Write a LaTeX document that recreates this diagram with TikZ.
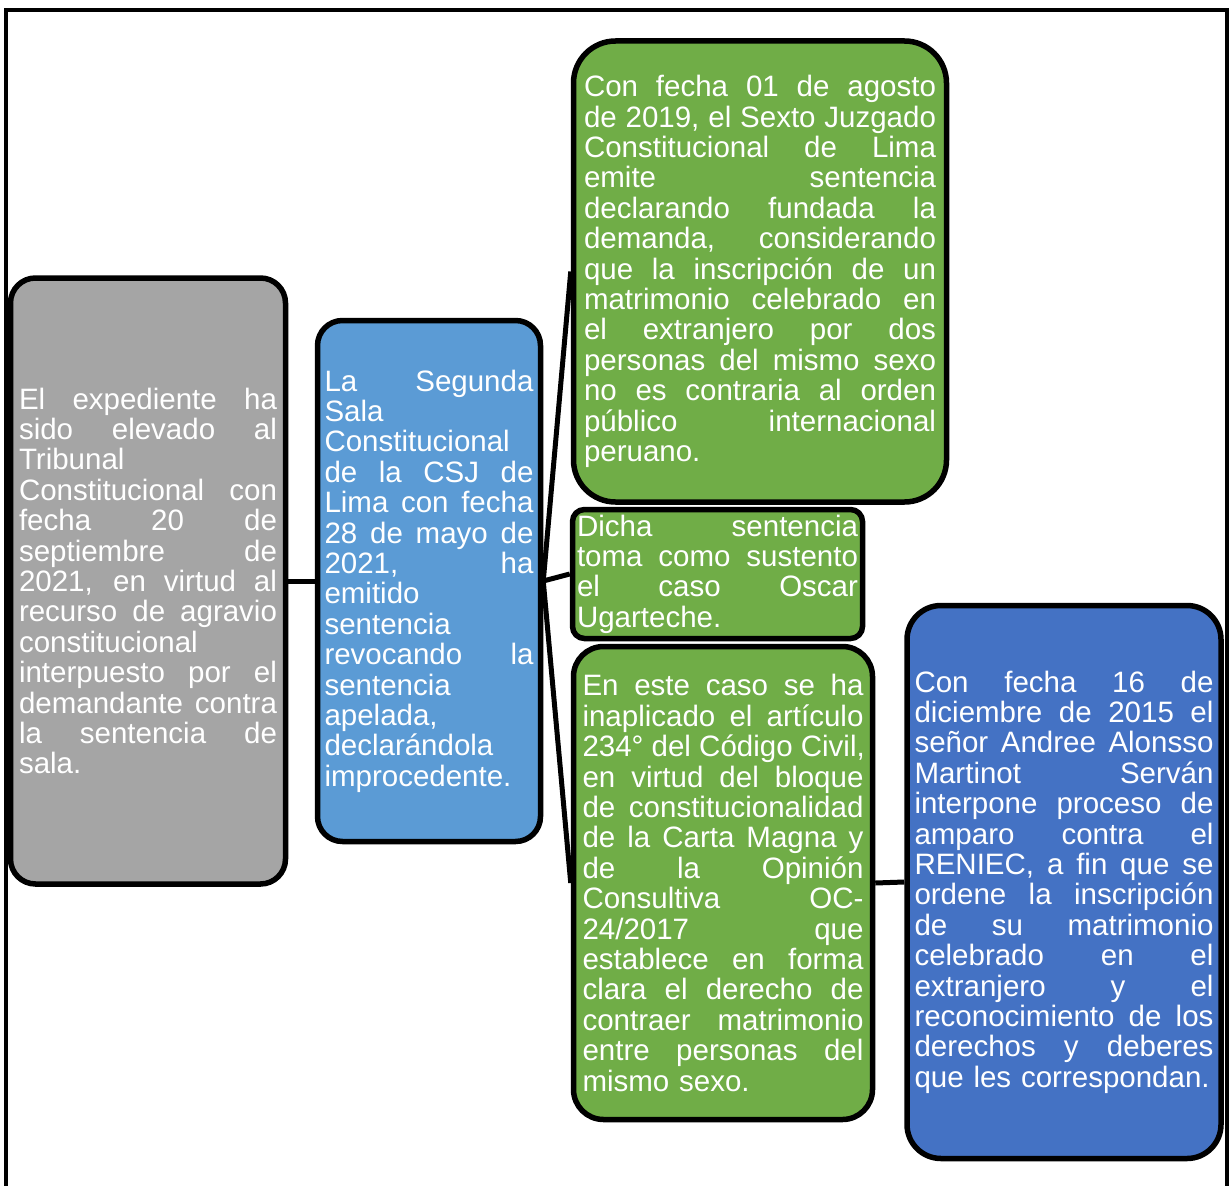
\documentclass[tikz,border=0pt]{standalone}
\usepackage{fontspec}
\setmainfont{Liberation Sans}
\usetikzlibrary{backgrounds}
\definecolor{boxgray}{HTML}{A5A5A5}
\definecolor{boxbluemid}{HTML}{5B9BD5}
\definecolor{boxgreen}{HTML}{70AD47}
\definecolor{boxblueright}{HTML}{4472C4}
\newcommand{\J}[1]{\leavevmode\hbox to \linewidth{\spaceskip=.278em plus 1fil\relax #1}}
\tikzset{
  infobox/.style={draw=black, line width=5.5pt, text=white, align=left, inner sep=0pt,
    font=\fontsize{29.5}{30.4}\selectfont},
  link/.style={draw=black, line width=5pt}
}
\begin{document}
\begin{tikzpicture}[x=1pt,y=-1pt]
\useasboundingbox (0,0) rectangle (1230,1185);
% frame
\draw[line width=4pt] (6,1195) -- (6,10) -- (1227,10) -- (1227,1195);

\node[infobox, fill=boxgray, rounded corners=25pt, minimum width=275pt, minimum height=606pt, text width=258pt]
  (gray) at (148,581) {%
\J{El expediente ha}\\
\J{sido elevado al}\\
Tribunal\\
\J{Constitucional con}\\
\J{fecha 20 de}\\
\J{septiembre de}\\
\J{2021, en virtud al}\\
\J{recurso de agravio}\\
constitucional\\
\J{interpuesto por el}\\
\J{demandante contra}\\
\J{la sentencia de}\\
sala.};

\node[infobox, fill=boxbluemid, rounded corners=25pt, minimum width=223pt, minimum height=521pt, text width=209pt]
  (bmid) at (429,581) {%
\J{La Segunda}\\
Sala\\
Constitucional\\
\J{de la CSJ de}\\
\J{Lima con fecha}\\
\J{28 de mayo de}\\
\J{2021, ha}\\
emitido\\
sentencia\\
\J{revocando la}\\
sentencia\\
apelada,\\
declarándola\\
improcedente.};

\node[infobox, fill=boxgreen, rounded corners=42pt, minimum width=373pt, minimum height=461pt, text width=352pt]
  (gtop) at (760,271.5) {%
\J{Con fecha 01 de agosto}\\
\J{de 2019, el Sexto Juzgado}\\
\J{Constitucional de Lima}\\
\J{emite sentencia}\\
\J{declarando fundada la}\\
\J{demanda, considerando}\\
\J{que la inscripción de un}\\
\J{matrimonio celebrado en}\\
\J{el extranjero por dos}\\
\J{personas del mismo sexo}\\
\J{no es contraria al orden}\\
\J{público internacional}\\
peruano.};

\node[infobox, fill=boxgreen, rounded corners=12pt, minimum width=290pt, minimum height=129pt, text width=281pt]
  (gmid) at (717.5,574) {%
\J{Dicha sentencia}\\
\J{toma como sustento}\\
\J{el caso Oscar}\\
Ugarteche.};

\node[infobox, fill=boxgreen, rounded corners=30pt, minimum width=299pt, minimum height=473pt, text width=281pt]
  (gbot) at (723,883) {%
\J{En este caso se ha}\\
\J{inaplicado el artículo}\\
\J{234° del Código Civil,}\\
\J{en virtud del bloque}\\
\J{de constitucionalidad}\\
\J{de la Carta Magna y}\\
\J{de la Opinión}\\
\J{Consultiva OC-}\\
\J{24/2017 que}\\
\J{establece en forma}\\
\J{clara el derecho de}\\
\J{contraer matrimonio}\\
\J{entre personas del}\\
mismo sexo.};

\node[infobox, fill=boxblueright, rounded corners=34pt, minimum width=314pt, minimum height=553pt, text width=299pt]
  (bright) at (1064,882) {%
\J{Con fecha 16 de}\\
\J{diciembre de 2015 el}\\
\J{señor Andree Alonsso}\\
\J{Martinot Serván}\\
\J{interpone proceso de}\\
\J{amparo contra el}\\
\J{RENIEC, a fin que se}\\
\J{ordene la inscripción}\\
\J{de su matrimonio}\\
\J{celebrado en el}\\
\J{extranjero y el}\\
\J{reconocimiento de los}\\
\J{derechos y deberes}\\
que les correspondan.};

\begin{scope}[on background layer]
\draw[link] (gray.east) -- (bmid.west);
\draw[link] (bmid.east) -- (gtop.west);
\draw[link] (bmid.east) -- (gmid.west);
\draw[link] (bmid.east) -- (gbot.west);
\draw[link] (gbot.east) -- (bright.west);
\end{scope}
\end{tikzpicture}
\end{document}
